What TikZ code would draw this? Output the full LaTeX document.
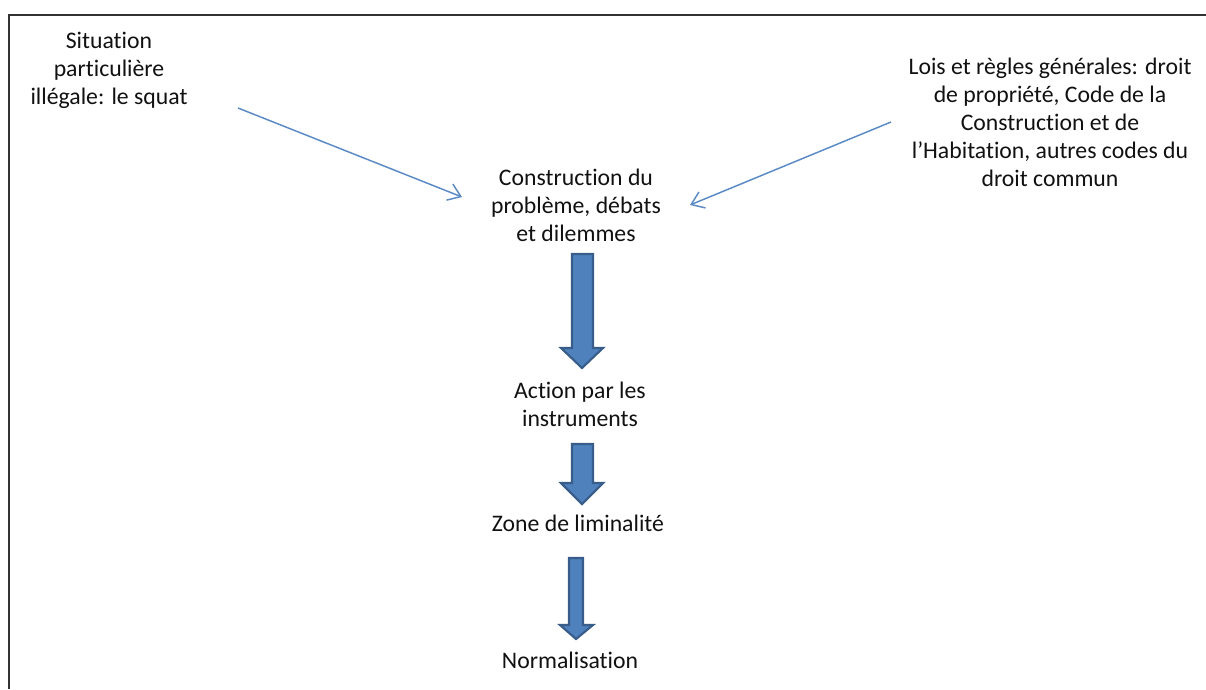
\documentclass[tikz,border=0pt]{standalone}
\usepackage{fontspec}
\setmainfont[Ligatures={NoCommon,NoRequired,NoContextual}]{Carlito}
\usetikzlibrary{arrows.meta}
\definecolor{thinblue}{HTML}{5A8AC6}
\definecolor{blockfill}{HTML}{4F81BD}
\definecolor{blockedge}{HTML}{385D8A}
\definecolor{txt}{HTML}{111111}
\tikzset{
  lbl/.style={align=center, inner sep=0pt, text=txt, font=\fontsize{17.8}{21}\selectfont},
  thinarrow/.style={draw=thinblue, line width=1.1pt, -{Straight Barb[length=9pt,width=13pt,line width=1.1pt]}},
  blockarrow/.style={fill=blockfill, draw=blockedge, line width=1.6pt, line join=miter},
  frameline/.style={draw=black!80, line width=1pt}
}
\begin{document}
\begin{tikzpicture}[x=0.75pt,y=-0.75pt]
\useasboundingbox (0,0) rectangle (1206,689);
\draw[frameline] (9,689) -- (9,15) -- (1206,15);

\node[lbl] (sit) at (109,70) {Situation\\particulière\\illégale: le squat};
\node[lbl] (lois) at (1050,122) {Lois et règles générales: droit\\de propriété, Code de la\\Construction et de\\l’Habitation, autres codes du\\droit commun};
\node[lbl] (cons) at (576,205) {Construction du\\problème, débats\\et dilemmes};
\node[lbl] (act) at (580,404) {Action par les\\instruments};
\node[lbl] (zone) at (578,523) {Zone de liminalité};
\node[lbl] (norm) at (570,660) {Normalisation};

\coordinate (s1) at (238,108);
\coordinate (e1) at (462,197);
\coordinate (s2) at (891,122);
\coordinate (e2) at (690,205);
\draw[thinarrow] (s1) -- (e1);
\draw[thinarrow] (s2) -- (e2);

\draw[blockarrow] (572,254) -- (593,254) -- (593,348) -- (603,348) -- (582,368) -- (561,348) -- (572,348) -- cycle;
\draw[blockarrow] (572,444) -- (593,444) -- (593,483) -- (603,483) -- (582,504) -- (561,483) -- (572,483) -- cycle;
\draw[blockarrow] (569,558) -- (583,558) -- (583,625) -- (593,625) -- (576,639) -- (560,625) -- (569,625) -- cycle;
\end{tikzpicture}
\end{document}
